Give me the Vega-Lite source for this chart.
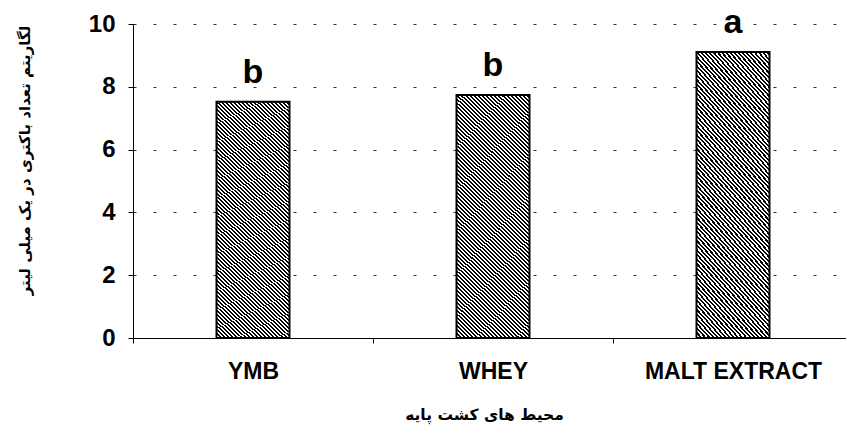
{
  "$schema": "https://vega.github.io/schema/vega-lite/v6.json",
  "width": 720,
  "height": 314,
  "autosize": {"type": "none"},
  "padding": {"left": 133, "top": 24, "right": 0, "bottom": 92},
  "background": "white",
  "data": {
    "values": [
      {"medium": "YMB", "value": 7.52, "group": "b"},
      {"medium": "WHEY", "value": 7.74, "group": "b"},
      {"medium": "MALT EXTRACT", "value": 9.11, "group": "a"}
    ]
  },
  "encoding": {
    "x": {
      "field": "medium",
      "type": "nominal",
      "sort": null,
      "scale": {"paddingInner": 0, "paddingOuter": 0},
      "axis": {
        "title": "محیط های کشت پایه",
        "labelAngle": 0,
        "labelFont": "Liberation Sans",
        "labelFontWeight": "bold",
        "labelFontSize": 23,
        "labelColor": "black",
        "labelPadding": 17,
        "tickBand": "extent",
        "tickSize": 5,
        "tickColor": "black",
        "domainColor": "black",
        "domainWidth": 1,
        "grid": false,
        "titleFont": "DejaVu Sans",
        "titleFontWeight": "bold",
        "titleFontSize": 15.5,
        "titleColor": "black",
        "titleX": 351,
        "titleY": 69
      }
    },
    "y": {
      "field": "value",
      "type": "quantitative",
      "scale": {"domain": [0, 10]},
      "axis": {
        "title": "لگاریتم تعداد باکتری در یک میلی لیتر",
        "values": [0, 2, 4, 6, 8, 10],
        "labelFont": "Liberation Sans",
        "labelFontWeight": "bold",
        "labelFontSize": 24,
        "labelColor": "black",
        "labelPadding": 13,
        "tickSize": 5,
        "tickColor": "black",
        "domainColor": "black",
        "domainWidth": 1,
        "grid": true,
        "gridColor": "#333333",
        "gridDash": [3, 17],
        "gridWidth": 1,
        "titleFont": "DejaVu Sans",
        "titleFontWeight": "bold",
        "titleFontSize": 15,
        "titleColor": "black",
        "titleX": -101,
        "titleY": 136
      }
    }
  },
  "layer": [
    {
      "mark": {
        "type": "bar",
        "size": 73,
        "stroke": "black",
        "strokeWidth": 2,
        "fill": {
          "gradient": "linear",
          "x1": 0, "y1": 1, "x2": 0.34, "y2": -0.189,
          "stops": [
            {"offset":0,"color":"#000"},{"offset":0.00625,"color":"#000"},{"offset":0.00625,"color":"#fff"},{"offset":0.0125,"color":"#fff"},{"offset":0.0125,"color":"#000"},{"offset":0.01875,"color":"#000"},{"offset":0.01875,"color":"#fff"},{"offset":0.025,"color":"#fff"},{"offset":0.025,"color":"#000"},{"offset":0.03125,"color":"#000"},{"offset":0.03125,"color":"#fff"},{"offset":0.0375,"color":"#fff"},{"offset":0.0375,"color":"#000"},{"offset":0.04375,"color":"#000"},{"offset":0.04375,"color":"#fff"},{"offset":0.05,"color":"#fff"},{"offset":0.05,"color":"#000"},{"offset":0.05625,"color":"#000"},{"offset":0.05625,"color":"#fff"},{"offset":0.0625,"color":"#fff"},{"offset":0.0625,"color":"#000"},{"offset":0.06875,"color":"#000"},{"offset":0.06875,"color":"#fff"},{"offset":0.075,"color":"#fff"},{"offset":0.075,"color":"#000"},{"offset":0.08125,"color":"#000"},{"offset":0.08125,"color":"#fff"},{"offset":0.0875,"color":"#fff"},{"offset":0.0875,"color":"#000"},{"offset":0.09375,"color":"#000"},{"offset":0.09375,"color":"#fff"},{"offset":0.1,"color":"#fff"},
            {"offset":0.1,"color":"#000"},{"offset":0.10625,"color":"#000"},{"offset":0.10625,"color":"#fff"},{"offset":0.1125,"color":"#fff"},{"offset":0.1125,"color":"#000"},{"offset":0.11875,"color":"#000"},{"offset":0.11875,"color":"#fff"},{"offset":0.125,"color":"#fff"},{"offset":0.125,"color":"#000"},{"offset":0.13125,"color":"#000"},{"offset":0.13125,"color":"#fff"},{"offset":0.1375,"color":"#fff"},{"offset":0.1375,"color":"#000"},{"offset":0.14375,"color":"#000"},{"offset":0.14375,"color":"#fff"},{"offset":0.15,"color":"#fff"},{"offset":0.15,"color":"#000"},{"offset":0.15625,"color":"#000"},{"offset":0.15625,"color":"#fff"},{"offset":0.1625,"color":"#fff"},{"offset":0.1625,"color":"#000"},{"offset":0.16875,"color":"#000"},{"offset":0.16875,"color":"#fff"},{"offset":0.175,"color":"#fff"},{"offset":0.175,"color":"#000"},{"offset":0.18125,"color":"#000"},{"offset":0.18125,"color":"#fff"},{"offset":0.1875,"color":"#fff"},{"offset":0.1875,"color":"#000"},{"offset":0.19375,"color":"#000"},{"offset":0.19375,"color":"#fff"},{"offset":0.2,"color":"#fff"},
            {"offset":0.2,"color":"#000"},{"offset":0.20625,"color":"#000"},{"offset":0.20625,"color":"#fff"},{"offset":0.2125,"color":"#fff"},{"offset":0.2125,"color":"#000"},{"offset":0.21875,"color":"#000"},{"offset":0.21875,"color":"#fff"},{"offset":0.225,"color":"#fff"},{"offset":0.225,"color":"#000"},{"offset":0.23125,"color":"#000"},{"offset":0.23125,"color":"#fff"},{"offset":0.2375,"color":"#fff"},{"offset":0.2375,"color":"#000"},{"offset":0.24375,"color":"#000"},{"offset":0.24375,"color":"#fff"},{"offset":0.25,"color":"#fff"},{"offset":0.25,"color":"#000"},{"offset":0.25625,"color":"#000"},{"offset":0.25625,"color":"#fff"},{"offset":0.2625,"color":"#fff"},{"offset":0.2625,"color":"#000"},{"offset":0.26875,"color":"#000"},{"offset":0.26875,"color":"#fff"},{"offset":0.275,"color":"#fff"},{"offset":0.275,"color":"#000"},{"offset":0.28125,"color":"#000"},{"offset":0.28125,"color":"#fff"},{"offset":0.2875,"color":"#fff"},{"offset":0.2875,"color":"#000"},{"offset":0.29375,"color":"#000"},{"offset":0.29375,"color":"#fff"},{"offset":0.3,"color":"#fff"},
            {"offset":0.3,"color":"#000"},{"offset":0.30625,"color":"#000"},{"offset":0.30625,"color":"#fff"},{"offset":0.3125,"color":"#fff"},{"offset":0.3125,"color":"#000"},{"offset":0.31875,"color":"#000"},{"offset":0.31875,"color":"#fff"},{"offset":0.325,"color":"#fff"},{"offset":0.325,"color":"#000"},{"offset":0.33125,"color":"#000"},{"offset":0.33125,"color":"#fff"},{"offset":0.3375,"color":"#fff"},{"offset":0.3375,"color":"#000"},{"offset":0.34375,"color":"#000"},{"offset":0.34375,"color":"#fff"},{"offset":0.35,"color":"#fff"},{"offset":0.35,"color":"#000"},{"offset":0.35625,"color":"#000"},{"offset":0.35625,"color":"#fff"},{"offset":0.3625,"color":"#fff"},{"offset":0.3625,"color":"#000"},{"offset":0.36875,"color":"#000"},{"offset":0.36875,"color":"#fff"},{"offset":0.375,"color":"#fff"},{"offset":0.375,"color":"#000"},{"offset":0.38125,"color":"#000"},{"offset":0.38125,"color":"#fff"},{"offset":0.3875,"color":"#fff"},{"offset":0.3875,"color":"#000"},{"offset":0.39375,"color":"#000"},{"offset":0.39375,"color":"#fff"},{"offset":0.4,"color":"#fff"},
            {"offset":0.4,"color":"#000"},{"offset":0.40625,"color":"#000"},{"offset":0.40625,"color":"#fff"},{"offset":0.4125,"color":"#fff"},{"offset":0.4125,"color":"#000"},{"offset":0.41875,"color":"#000"},{"offset":0.41875,"color":"#fff"},{"offset":0.425,"color":"#fff"},{"offset":0.425,"color":"#000"},{"offset":0.43125,"color":"#000"},{"offset":0.43125,"color":"#fff"},{"offset":0.4375,"color":"#fff"},{"offset":0.4375,"color":"#000"},{"offset":0.44375,"color":"#000"},{"offset":0.44375,"color":"#fff"},{"offset":0.45,"color":"#fff"},{"offset":0.45,"color":"#000"},{"offset":0.45625,"color":"#000"},{"offset":0.45625,"color":"#fff"},{"offset":0.4625,"color":"#fff"},{"offset":0.4625,"color":"#000"},{"offset":0.46875,"color":"#000"},{"offset":0.46875,"color":"#fff"},{"offset":0.475,"color":"#fff"},{"offset":0.475,"color":"#000"},{"offset":0.48125,"color":"#000"},{"offset":0.48125,"color":"#fff"},{"offset":0.4875,"color":"#fff"},{"offset":0.4875,"color":"#000"},{"offset":0.49375,"color":"#000"},{"offset":0.49375,"color":"#fff"},{"offset":0.5,"color":"#fff"},
            {"offset":0.5,"color":"#000"},{"offset":0.50625,"color":"#000"},{"offset":0.50625,"color":"#fff"},{"offset":0.5125,"color":"#fff"},{"offset":0.5125,"color":"#000"},{"offset":0.51875,"color":"#000"},{"offset":0.51875,"color":"#fff"},{"offset":0.525,"color":"#fff"},{"offset":0.525,"color":"#000"},{"offset":0.53125,"color":"#000"},{"offset":0.53125,"color":"#fff"},{"offset":0.5375,"color":"#fff"},{"offset":0.5375,"color":"#000"},{"offset":0.54375,"color":"#000"},{"offset":0.54375,"color":"#fff"},{"offset":0.55,"color":"#fff"},{"offset":0.55,"color":"#000"},{"offset":0.55625,"color":"#000"},{"offset":0.55625,"color":"#fff"},{"offset":0.5625,"color":"#fff"},{"offset":0.5625,"color":"#000"},{"offset":0.56875,"color":"#000"},{"offset":0.56875,"color":"#fff"},{"offset":0.575,"color":"#fff"},{"offset":0.575,"color":"#000"},{"offset":0.58125,"color":"#000"},{"offset":0.58125,"color":"#fff"},{"offset":0.5875,"color":"#fff"},{"offset":0.5875,"color":"#000"},{"offset":0.59375,"color":"#000"},{"offset":0.59375,"color":"#fff"},{"offset":0.6,"color":"#fff"},
            {"offset":0.6,"color":"#000"},{"offset":0.60625,"color":"#000"},{"offset":0.60625,"color":"#fff"},{"offset":0.6125,"color":"#fff"},{"offset":0.6125,"color":"#000"},{"offset":0.61875,"color":"#000"},{"offset":0.61875,"color":"#fff"},{"offset":0.625,"color":"#fff"},{"offset":0.625,"color":"#000"},{"offset":0.63125,"color":"#000"},{"offset":0.63125,"color":"#fff"},{"offset":0.6375,"color":"#fff"},{"offset":0.6375,"color":"#000"},{"offset":0.64375,"color":"#000"},{"offset":0.64375,"color":"#fff"},{"offset":0.65,"color":"#fff"},{"offset":0.65,"color":"#000"},{"offset":0.65625,"color":"#000"},{"offset":0.65625,"color":"#fff"},{"offset":0.6625,"color":"#fff"},{"offset":0.6625,"color":"#000"},{"offset":0.66875,"color":"#000"},{"offset":0.66875,"color":"#fff"},{"offset":0.675,"color":"#fff"},{"offset":0.675,"color":"#000"},{"offset":0.68125,"color":"#000"},{"offset":0.68125,"color":"#fff"},{"offset":0.6875,"color":"#fff"},{"offset":0.6875,"color":"#000"},{"offset":0.69375,"color":"#000"},{"offset":0.69375,"color":"#fff"},{"offset":0.7,"color":"#fff"},
            {"offset":0.7,"color":"#000"},{"offset":0.70625,"color":"#000"},{"offset":0.70625,"color":"#fff"},{"offset":0.7125,"color":"#fff"},{"offset":0.7125,"color":"#000"},{"offset":0.71875,"color":"#000"},{"offset":0.71875,"color":"#fff"},{"offset":0.725,"color":"#fff"},{"offset":0.725,"color":"#000"},{"offset":0.73125,"color":"#000"},{"offset":0.73125,"color":"#fff"},{"offset":0.7375,"color":"#fff"},{"offset":0.7375,"color":"#000"},{"offset":0.74375,"color":"#000"},{"offset":0.74375,"color":"#fff"},{"offset":0.75,"color":"#fff"},{"offset":0.75,"color":"#000"},{"offset":0.75625,"color":"#000"},{"offset":0.75625,"color":"#fff"},{"offset":0.7625,"color":"#fff"},{"offset":0.7625,"color":"#000"},{"offset":0.76875,"color":"#000"},{"offset":0.76875,"color":"#fff"},{"offset":0.775,"color":"#fff"},{"offset":0.775,"color":"#000"},{"offset":0.78125,"color":"#000"},{"offset":0.78125,"color":"#fff"},{"offset":0.7875,"color":"#fff"},{"offset":0.7875,"color":"#000"},{"offset":0.79375,"color":"#000"},{"offset":0.79375,"color":"#fff"},{"offset":0.8,"color":"#fff"},
            {"offset":0.8,"color":"#000"},{"offset":0.80625,"color":"#000"},{"offset":0.80625,"color":"#fff"},{"offset":0.8125,"color":"#fff"},{"offset":0.8125,"color":"#000"},{"offset":0.81875,"color":"#000"},{"offset":0.81875,"color":"#fff"},{"offset":0.825,"color":"#fff"},{"offset":0.825,"color":"#000"},{"offset":0.83125,"color":"#000"},{"offset":0.83125,"color":"#fff"},{"offset":0.8375,"color":"#fff"},{"offset":0.8375,"color":"#000"},{"offset":0.84375,"color":"#000"},{"offset":0.84375,"color":"#fff"},{"offset":0.85,"color":"#fff"},{"offset":0.85,"color":"#000"},{"offset":0.85625,"color":"#000"},{"offset":0.85625,"color":"#fff"},{"offset":0.8625,"color":"#fff"},{"offset":0.8625,"color":"#000"},{"offset":0.86875,"color":"#000"},{"offset":0.86875,"color":"#fff"},{"offset":0.875,"color":"#fff"},{"offset":0.875,"color":"#000"},{"offset":0.88125,"color":"#000"},{"offset":0.88125,"color":"#fff"},{"offset":0.8875,"color":"#fff"},{"offset":0.8875,"color":"#000"},{"offset":0.89375,"color":"#000"},{"offset":0.89375,"color":"#fff"},{"offset":0.9,"color":"#fff"},
            {"offset":0.9,"color":"#000"},{"offset":0.90625,"color":"#000"},{"offset":0.90625,"color":"#fff"},{"offset":0.9125,"color":"#fff"},{"offset":0.9125,"color":"#000"},{"offset":0.91875,"color":"#000"},{"offset":0.91875,"color":"#fff"},{"offset":0.925,"color":"#fff"},{"offset":0.925,"color":"#000"},{"offset":0.93125,"color":"#000"},{"offset":0.93125,"color":"#fff"},{"offset":0.9375,"color":"#fff"},{"offset":0.9375,"color":"#000"},{"offset":0.94375,"color":"#000"},{"offset":0.94375,"color":"#fff"},{"offset":0.95,"color":"#fff"},{"offset":0.95,"color":"#000"},{"offset":0.95625,"color":"#000"},{"offset":0.95625,"color":"#fff"},{"offset":0.9625,"color":"#fff"},{"offset":0.9625,"color":"#000"},{"offset":0.96875,"color":"#000"},{"offset":0.96875,"color":"#fff"},{"offset":0.975,"color":"#fff"},{"offset":0.975,"color":"#000"},{"offset":0.98125,"color":"#000"},{"offset":0.98125,"color":"#fff"},{"offset":0.9875,"color":"#fff"},{"offset":0.9875,"color":"#000"},{"offset":0.99375,"color":"#000"},{"offset":0.99375,"color":"#fff"},{"offset":1,"color":"#fff"}
          ]
        }
      }
    },
    {
      "mark": {
        "type": "text",
        "font": "Liberation Sans",
        "fontWeight": "bold",
        "fontSize": 34,
        "baseline": "alphabetic",
        "dy": -19,
        "color": "black"
      },
      "encoding": {"text": {"field": "group"}}
    }
  ],
  "config": {"view": {"stroke": null}}
}
